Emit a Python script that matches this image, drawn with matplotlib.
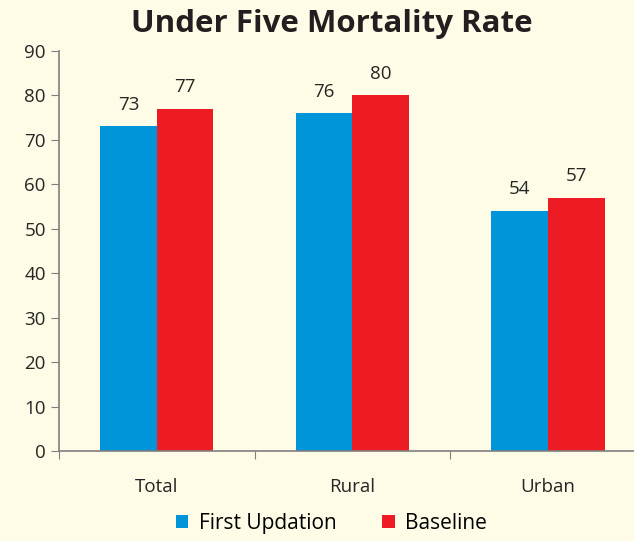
"""Under Five Mortality Rate - barras agrupadas."""

import matplotlib.pyplot as plt
import numpy as np

categories = ["Total", "Rural", "Urban"]
first_updation = [73, 76, 54]
baseline = [77, 80, 57]
series_names = ["First Updation", "Baseline"]

BG = "#FEFCE6"
BLUE = "#0095D9"
RED = "#ED1C24"

plt.rcParams["font.family"] = ["Open Sans", "DejaVu Sans"]

fig = plt.figure(figsize=(6.34, 5.41), dpi=100, facecolor=BG)
ax = fig.add_axes([0.093, 0.166, 0.907, 0.740])
ax.set_facecolor(BG)

x = np.arange(len(categories))
w = 0.29
b1 = ax.bar(x - w / 2, first_updation, w, color=BLUE, label=series_names[0])
b2 = ax.bar(x + w / 2, baseline, w, color=RED, label=series_names[1])

for bars in (b1, b2):
    for r in bars:
        ax.annotate(f"{r.get_height():.0f}", (r.get_x() + r.get_width() / 2, r.get_height()),
                    xytext=(0, 9), textcoords="offset points", ha="center", va="bottom",
                    fontsize=13.5, color="#262626")

ax.set_yticks(np.arange(0, 91, 10))
ax.set_xticks([-0.5, 0.5, 1.5])
ax.set_xticklabels([])
ax.set_xticks(x, minor=True)
ax.set_xticklabels(categories, minor=True)
ax.set_xlim(-0.5, 2.44)
ax.set_ylim(0, 90)
ax.tick_params(axis="x", which="minor", length=0, pad=19, labelsize=13.5, labelcolor="#262626")
ax.tick_params(axis="x", which="major", length=6, color="#7f7f7f", direction="out")
ax.tick_params(axis="y", length=6, color="#7f7f7f", labelsize=13.5, labelcolor="#262626")

for s in ("top", "right"):
    ax.spines[s].set_visible(False)
for s in ("left", "bottom"):
    ax.spines[s].set_color("#7f7f7f")
    ax.spines[s].set_linewidth(1.2)

fig.text(0.523, 0.955, "Under Five Mortality Rate", ha="center", va="center",
         fontsize=22.5, fontweight="bold", color="#231f20")

fig.legend(handles=[b1, b2], loc="center", bbox_to_anchor=(0.523, 0.032), ncol=2,
           frameon=False, fontsize=15, handlelength=0.6, handleheight=0.6,
           handletextpad=0.5, columnspacing=2.2)

fig.savefig("out.png", dpi=100, facecolor=BG)
